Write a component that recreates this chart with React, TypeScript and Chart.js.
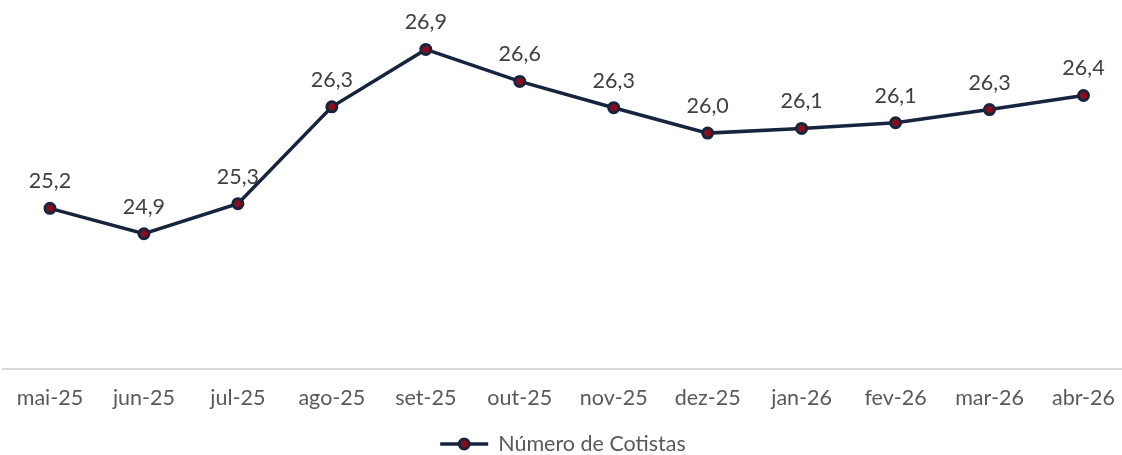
import React, { useEffect, useRef } from "react";
import { Chart, registerables } from "chart.js";

Chart.register(...registerables);

const categories = ["mai-25", "jun-25", "jul-25", "ago-25", "set-25", "out-25", "nov-25", "dez-25", "jan-26", "fev-26", "mar-26", "abr-26"];
const cotistas = [25.21, 24.94, 25.26, 26.29, 26.9, 26.56, 26.28, 26.01, 26.06, 26.12, 26.26, 26.41];
const seriesName = "Número de Cotistas";

const LINE_COLOR = "#17243d";
const POINT_FILL = "#8b0d1c";
const TEXT_COLOR = "#404040";
const FONT = "Lato";
const FONT_SIZE = 21.5;
const VIEW_W = 1122;
const CANVAS_W = 1131;
const H = 455;

const fmt = (v: number) => v.toFixed(1).replace(".", ",");

const dataLabelPlugin = {
  id: "dataLabels",
  afterDatasetsDraw(chart: any) {
    const ctx = chart.ctx;
    const meta = chart.getDatasetMeta(0);
    ctx.save();
    ctx.font = `${FONT_SIZE}px ${FONT}`;
    ctx.fillStyle = TEXT_COLOR;
    ctx.textAlign = "center";
    ctx.textBaseline = "middle";
    meta.data.forEach((pt: any, i: number) => {
      const v = chart.data.datasets[0].data[i] as number;
      ctx.fillText(fmt(v), pt.x, pt.y - 27);
    });
    ctx.restore();
  },
};

const legendPlugin = {
  id: "customLegend",
  afterDraw(chart: any) {
    const ctx = chart.ctx;
    ctx.save();
    ctx.font = `${FONT_SIZE}px ${FONT}`;
    const textW = ctx.measureText(seriesName).width;
    const iconW = 48;
    const gap = 10;
    const total = iconW + gap + textW;
    const startX = VIEW_W / 2 - total / 2 + 2;
    const y = 444;
    ctx.strokeStyle = LINE_COLOR;
    ctx.lineWidth = 3.5;
    ctx.beginPath();
    ctx.moveTo(startX, y);
    ctx.lineTo(startX + iconW, y);
    ctx.stroke();
    ctx.beginPath();
    ctx.arc(startX + iconW / 2, y, 5, 0, Math.PI * 2);
    ctx.fillStyle = POINT_FILL;
    ctx.fill();
    ctx.lineWidth = 3;
    ctx.stroke();
    ctx.fillStyle = "#595959";
    ctx.textAlign = "left";
    ctx.textBaseline = "middle";
    ctx.fillText(seriesName, startX + iconW + gap, y);
    ctx.restore();
  },
};

export default function App() {
  const ref = useRef<HTMLCanvasElement | null>(null);
  useEffect(() => {
    if (!ref.current) return;
    const chart = new Chart(ref.current, {
      type: "line",
      data: {
        labels: categories,
        datasets: [
          {
            label: seriesName,
            data: cotistas,
            borderColor: LINE_COLOR,
            borderWidth: 3.5,
            backgroundColor: POINT_FILL,
            pointBackgroundColor: POINT_FILL,
            pointBorderColor: LINE_COLOR,
            pointBorderWidth: 3,
            pointRadius: 5,
            tension: 0,
            fill: false,
            clip: false,
          },
        ],
      },
      options: {
        animation: false,
        responsive: false,
        maintainAspectRatio: false,
        layout: { autoPadding: false, padding: { left: 3, right: 0, top: 40, bottom: 28 } },
        plugins: {
          legend: { display: false },
          tooltip: { enabled: false },
        },
        scales: {
          x: {
            offset: true,
            grid: { display: false, drawTicks: false },
            border: { display: true, color: "#d9d9d9", width: 2 },
            ticks: { color: "#595959", font: { family: FONT, size: FONT_SIZE }, padding: 16, maxRotation: 0, autoSkip: false },
          },
          y: {
            display: false,
            min: 23.5,
            max: 27,
          },
        },
      },
      plugins: [dataLabelPlugin, legendPlugin],
    });
    return () => chart.destroy();
  }, []);
  return (
    <div style={{ position: "absolute", left: 0, top: 0, width: VIEW_W, height: H, overflow: "hidden", background: "#fff" }}>
      <canvas ref={ref} width={CANVAS_W} height={H} style={{ width: CANVAS_W, height: H, display: "block" }} />
    </div>
  );
}
